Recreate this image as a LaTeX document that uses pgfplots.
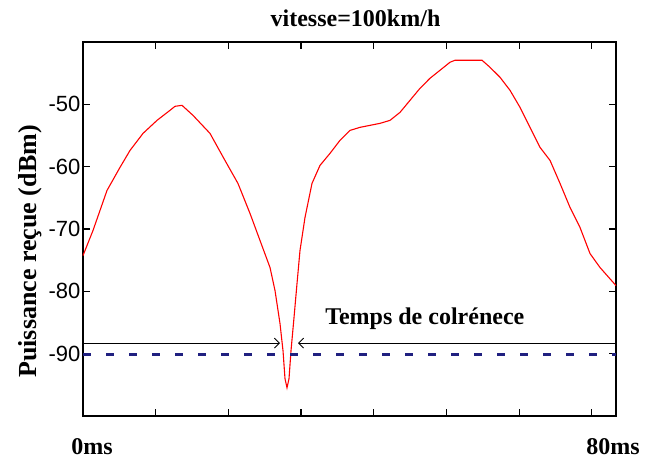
\documentclass[border=0pt]{standalone}
\usepackage{fontspec}
\setmainfont{Liberation Serif}
\setsansfont{Liberation Sans}
\usepackage{pgfplots}
\pgfplotsset{compat=1.18}
\usetikzlibrary{arrows.meta}

\definecolor{navyd}{RGB}{32,32,128}

\begin{document}
\begin{tikzpicture}
\begin{axis}[
  scale only axis, width=533pt, height=374pt,
  xmin=0, xmax=80, ymin=-100, ymax=-40,
  xtick={10.909,21.818,32.727,43.636,54.545,65.455,76.364},
  xticklabels={},
  ytick={-90,-80,-70,-60,-50},
  yticklabels={-90,-80,-70,-60,-50},
  tick align=inside, major tick length=7pt,
  axis line style={line width=1.1pt},
  every tick/.style={line width=1.1pt, black},
  yticklabel style={font=\sffamily\fontsize{22}{24}\selectfont, xshift=1pt},
  ylabel={Puissance reçue (dBm)},
  ylabel style={font=\bfseries\fontsize{26}{28}\selectfont, at={(ticklabel cs:0.44)}},
  clip=false,
]
\addplot[red, line width=1.1pt] coordinates {
  (0,-74.26) (1.50,-70.24) (3.60,-63.82) (5.55,-60.12) (7.06,-57.39)
  (9.01,-54.66) (11.11,-52.57) (13.06,-50.96) (13.81,-50.32) (14.86,-50.16)
  (16.51,-51.77) (19.06,-54.66) (21.31,-59.00) (23.26,-62.69) (25.07,-67.51)
  (26.57,-71.85) (28.07,-76.18) (28.82,-79.88) (29.57,-85.18) (30.02,-89.52)
  (30.32,-94.02) (30.62,-95.47) (30.92,-94.02) (31.22,-89.52) (31.67,-84.22)
  (32.12,-78.76) (32.57,-73.45) (33.32,-68.15) (34.37,-62.69) (35.57,-59.80)
  (37.07,-57.87) (38.57,-55.78) (40.08,-54.18) (41.58,-53.69) (44.58,-53.05)
  (46.08,-52.57) (47.58,-51.29) (49.08,-49.36) (50.58,-47.43) (52.08,-45.82)
  (53.58,-44.54) (55.08,-43.25) (55.83,-42.93) (59.89,-42.93) (61.09,-44.06)
  (62.59,-45.66) (64.09,-47.75) (65.59,-50.48) (67.09,-53.69) (68.60,-56.91)
  (70.10,-59.00) (71.60,-62.69) (73.10,-66.55) (74.60,-69.76) (76.10,-73.94)
  (77.60,-76.18) (80,-79.08)
};
\addplot[navyd, line width=2.6pt, dash pattern=on 8pt off 15pt] coordinates {
  (0,-90.1) (80,-90.1)
};
\draw[-{Straight Barb[length=5pt,width=10pt]}, line width=0.9pt]
  (axis cs:0,-88.3) -- (axis cs:29.57,-88.3);
\draw[-{Straight Barb[length=5pt,width=10pt]}, line width=0.9pt]
  (axis cs:80,-88.3) -- (axis cs:32.27,-88.3);
\node[font=\bfseries\fontsize{24}{26}\selectfont] at (axis cs:51.3,-84.4) {Temps de colrénece};
\node[font=\bfseries\fontsize{24}{26}\selectfont] at ([yshift=-31pt]axis cs:1.35,-100) {0ms};
\node[font=\bfseries\fontsize{24}{26}\selectfont] at ([yshift=-31pt]axis cs:79.55,-100) {80ms};
\node[font=\bfseries\fontsize{24}{26}\selectfont] at ([xshift=6pt,yshift=24pt]rel axis cs:0.5,1) {vitesse=100km/h};
\coordinate (sw) at (rel axis cs:0,0);
\coordinate (ne) at (rel axis cs:1,1);
\end{axis}
\pgfresetboundingbox
\path ([xshift=-83pt,yshift=-43pt]sw) rectangle ([xshift=32pt,yshift=42pt]ne);
\end{tikzpicture}
\end{document}
